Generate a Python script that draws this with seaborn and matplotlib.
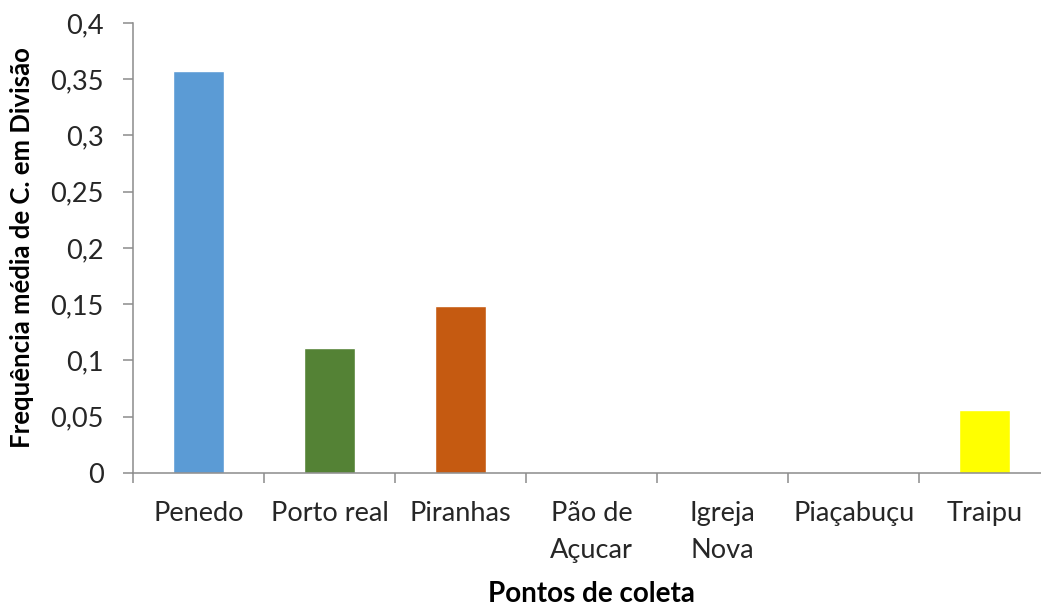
import numpy as np
import pandas as pd
import seaborn as sns
import matplotlib.pyplot as plt
from matplotlib.ticker import FuncFormatter, FixedLocator

# Dados
pontos = ["Penedo", "Porto real", "Piranhas", "Pão de\nAçucar", "Igreja\nNova", "Piaçabuçu", "Traipu"]
frequencia = [0.357, 0.111, 0.148, 0.0, 0.0, 0.0, 0.056]
cores = ["#5B9BD5", "#548235", "#C55A11", "#A5A5A5", "#4472C4", "#FFC000", "#FFFF00"]

df = pd.DataFrame({"Ponto": pontos, "Freq": frequencia})

sns.set_theme(style="white")
plt.rcParams["font.family"] = ["Lato", "DejaVu Sans"]

fig = plt.figure(figsize=(10.41, 6.10), dpi=100)
ax = fig.add_axes([0.1278, 0.2246, 0.881, 0.7377])

sns.barplot(data=df, x="Ponto", y="Freq", hue="Ponto", palette=cores,
            legend=False, width=0.39, saturation=1, ax=ax)

ax.set_xlim(-0.5, len(pontos) - 0.5)
ax.set_ylim(0, 0.4)
ax.set_yticks(np.arange(0, 0.41, 0.05))
ax.yaxis.set_major_formatter(FuncFormatter(lambda v, p: f"{round(v, 2):g}".replace(".", ",")))

# ticks nas divisões, rótulos no centro
ax.xaxis.set_major_locator(FixedLocator(np.arange(-0.5, len(pontos), 1.0)))
ax.xaxis.set_minor_locator(FixedLocator(np.arange(len(pontos))))
ax.set_xticklabels([], minor=False)
ax.set_xticklabels(pontos, minor=True, fontsize=19.5, color="#262626", linespacing=1.6)
ax.tick_params(axis="x", which="major", length=7, width=1.1, color="#8C8C8C", direction="out", bottom=True)
ax.tick_params(axis="x", which="minor", length=0, pad=20)
ax.tick_params(axis="y", length=7, width=1.1, color="#8C8C8C", direction="out", left=True,
               labelsize=19.5, labelcolor="#262626", pad=14)

for s in ["top", "right"]:
    ax.spines[s].set_visible(False)
for s in ["left", "bottom"]:
    ax.spines[s].set_color("#8C8C8C")
    ax.spines[s].set_linewidth(1.1)

ax.set_xlabel("Pontos de coleta", fontsize=20, fontweight="bold", color="black", labelpad=13)
ax.set_ylabel("Frequência média de C. em Divisão", fontsize=18.5, fontweight="bold", color="black", labelpad=12)

fig.savefig("out.png", dpi=100)
